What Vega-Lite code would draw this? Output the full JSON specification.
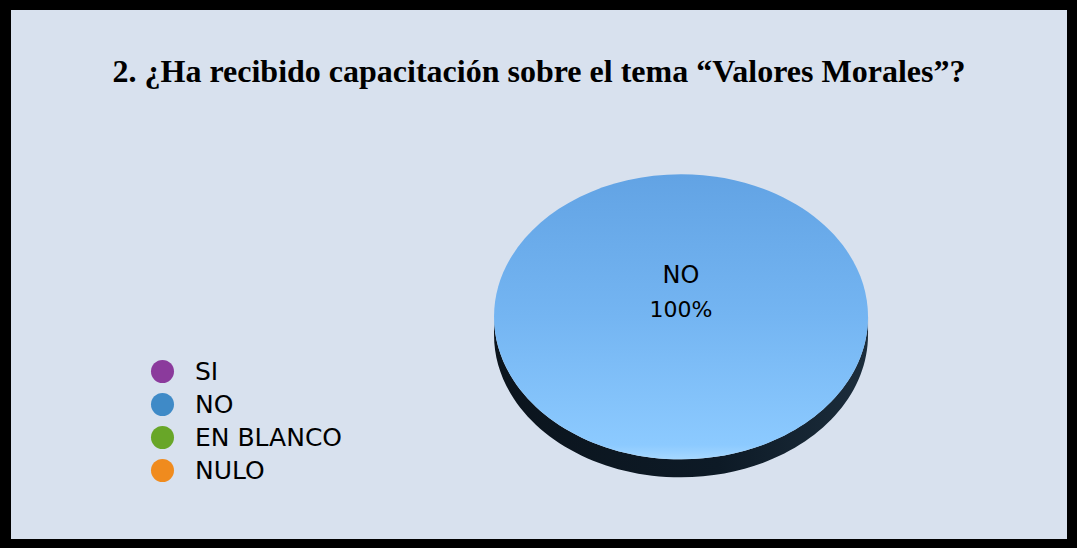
{
  "$schema": "https://vega.github.io/schema/vega-lite/v6.json",
  "autosize": {"type": "none"},
  "width": 1056,
  "height": 529,
  "padding": {"left": 11, "top": 10, "right": 10, "bottom": 9},
  "background": "#000000",
  "config": {
    "view": {"fill": "#d8e1ee", "stroke": null},
    "font": "DejaVu Sans"
  },
  "title": {
    "text": "2. ¿Ha recibido capacitación sobre el tema “Valores Morales”?",
    "font": "Liberation Serif",
    "fontSize": 32,
    "fontWeight": "bold",
    "color": "#000000",
    "anchor": "middle",
    "frame": "group",
    "baseline": "alphabetic",
    "offset": -104
  },
  "data": {
    "values": [
      {"category": "SI", "pct": 0},
      {"category": "NO", "pct": 1},
      {"category": "EN BLANCO", "pct": 0},
      {"category": "NULO", "pct": 0}
    ]
  },
  "encoding": {
    "x": {"datum": 0.6345, "type": "quantitative", "scale": {"domain": [0, 1]}, "axis": null},
    "y": {"datum": 0.42, "type": "quantitative", "scale": {"domain": [0, 1]}, "axis": null}
  },
  "layer": [
    {
      "mark": {"type": "point", "filled": true, "size": 0, "shape": "circle"},
      "encoding": {
        "color": {
          "field": "category",
          "type": "nominal",
          "sort": null,
          "scale": {"range": ["#8b3a9c", "#3f8ac7", "#68a628", "#f08b1e"]},
          "legend": {
            "title": null,
            "orient": "none",
            "legendX": 139,
            "legendY": 349,
            "symbolType": "circle",
            "symbolSize": 530,
            "symbolOpacity": 1,
            "symbolStrokeWidth": 0,
            "labelFontSize": 25,
            "labelFont": "DejaVu Sans",
            "labelColor": "#000000",
            "labelOffset": 20,
            "rowPadding": 7,
            "padding": 0
          }
        }
      }
    },
    {
      "transform": [{"filter": "datum.pct > 0"}],
      "mark": {
        "type": "point",
        "filled": true,
        "opacity": 1,
        "size": 139876,
        "shape": "M-1,0 L-1,0.096 A1,0.762 0 0,0 1,0.096 L1,0 A1,0.762 0 0,1 -1,0 Z",
        "fill": {
          "gradient": "linear",
          "x1": 0, "y1": 0, "x2": 1, "y2": 0,
          "stops": [
            {"offset": 0, "color": "#0b141d"},
            {"offset": 0.6, "color": "#0d1a26"},
            {"offset": 1, "color": "#1c2d3c"}
          ]
        },
        "strokeWidth": 0
      }
    },
    {
      "transform": [{"filter": "datum.pct > 0"}],
      "mark": {
        "type": "point",
        "filled": true,
        "opacity": 1,
        "size": 139876,
        "shape": "M-1,0 A1,0.762 0 1,1 1,0 A1,0.762 0 1,1 -1,0 Z",
        "fill": {
          "gradient": "linear",
          "x1": 0, "y1": 0, "x2": 0, "y2": 1,
          "stops": [
            {"offset": 0, "color": "#62a3e4"},
            {"offset": 0.5, "color": "#74b5f2"},
            {"offset": 0.95, "color": "#8ccaff"},
            {"offset": 1, "color": "#a6d8ff"}
          ]
        },
        "strokeWidth": 0
      }
    },
    {
      "transform": [{"filter": "datum.pct > 0"}],
      "mark": {"type": "text", "fontSize": 24, "font": "DejaVu Sans", "color": "#000000", "baseline": "alphabetic", "align": "center", "dy": -34},
      "encoding": {"text": {"field": "category", "type": "nominal"}}
    },
    {
      "transform": [{"filter": "datum.pct > 0"}],
      "mark": {"type": "text", "fontSize": 22, "font": "DejaVu Sans", "color": "#000000", "baseline": "alphabetic", "align": "center", "dy": 0},
      "encoding": {"text": {"field": "pct", "type": "quantitative", "format": ".0%"}}
    }
  ]
}
